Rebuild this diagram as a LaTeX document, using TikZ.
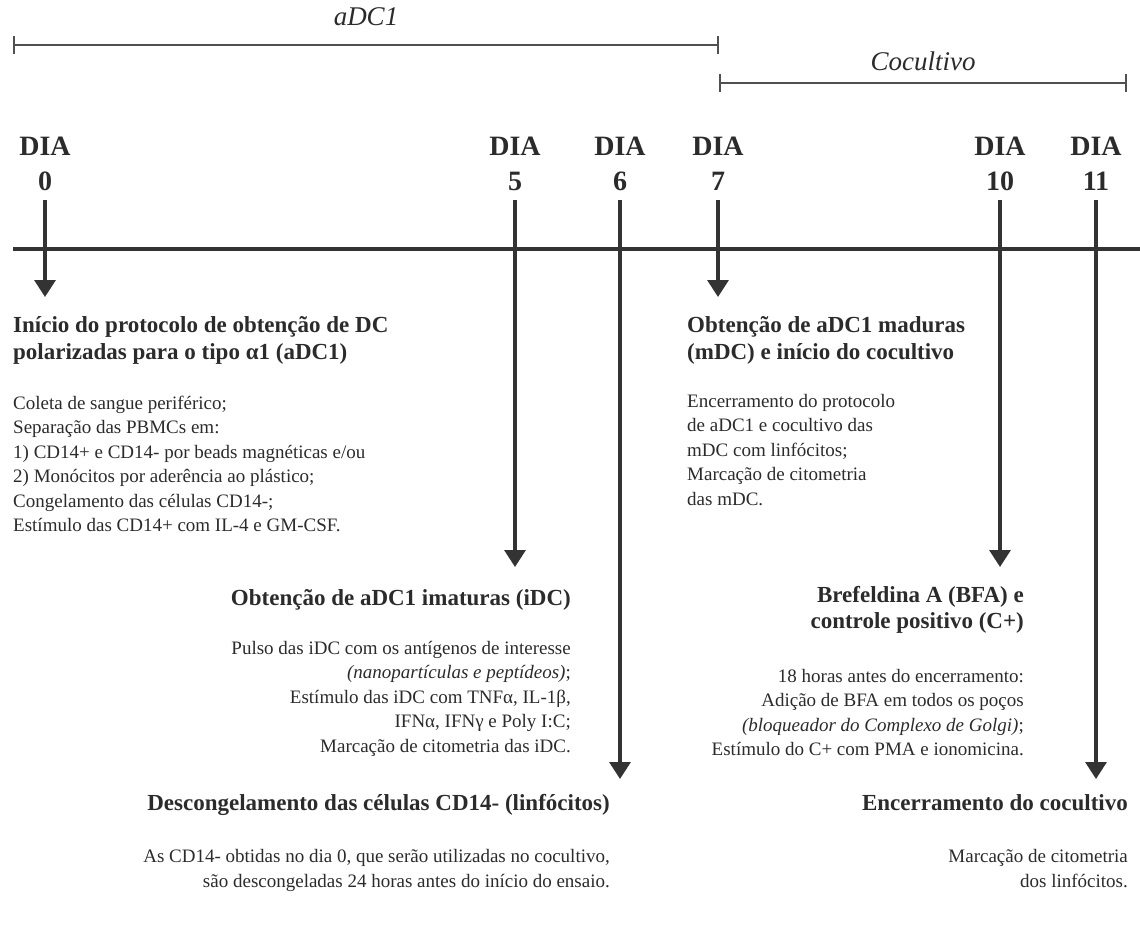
\documentclass[tikz,border=0pt]{standalone}
\usepackage{fontspec}
\setmainfont{Liberation Serif}
\definecolor{TimelineGray}{HTML}{333333}
\definecolor{BracketGray}{HTML}{505050}
\definecolor{InkGray}{HTML}{2B2B2B}
\usetikzlibrary{arrows.meta}

\tikzset{
  dayarrow/.style={draw=TimelineGray, line width=3.3pt,
    -{Triangle[width=21pt,length=17pt]}},
  daylabel/.style={font=\fontsize{28}{35}\selectfont\bfseries,
    align=center, text=InkGray, inner sep=0pt, anchor=base},
  phasebar/.style={draw=BracketGray, line width=2pt,
    {Bar[width=18pt]}-{Bar[width=18pt]}},
  phaselabel/.style={font=\fontsize{27}{32}\selectfont\itshape,
    text=InkGray, inner sep=0pt, anchor=base},
  stephead/.style={font=\fontsize{23}{26.5}\selectfont\bfseries,
    text=InkGray, inner sep=0pt},
  stepbody/.style={font=\fontsize{19}{24.5}\selectfont,
    text=InkGray, inner sep=0pt}
}

\begin{document}
\begin{tikzpicture}[x=1pt, y=-1pt]
    \useasboundingbox (0,0) rectangle (1140,929);

    % phases
    \coordinate (adc-a) at (13,45);
    \coordinate (adc-b) at (719,45);
    \coordinate (cocult-a) at (719,83);
    \coordinate (cocult-b) at (1127,83);
    \draw[phasebar] (adc-a) -- (adc-b);
    \draw[phasebar] (cocult-a) -- (cocult-b);
    \node[phaselabel] (adc-lbl) at (366,25) {aDC1};
    \node[phaselabel] (cocult-lbl) at (923,70) {Cocultivo};

    % timeline
    \coordinate (tl-a) at (13,249);
    \coordinate (tl-b) at (1140,249);
    \draw[draw=TimelineGray, line width=3.5pt] (tl-a) -- (tl-b);

    % days (anchor = baseline of the last line)
    \node[daylabel] (dia0) at (45,190) {DIA\\0};
    \node[daylabel] (dia5) at (515,190) {DIA\\5};
    \node[daylabel] (dia6) at (620,190) {DIA\\6};
    \node[daylabel] (dia7) at (718,190) {DIA\\7};
    \node[daylabel] (dia10) at (1000,190) {DIA\\10};
    \node[daylabel] (dia11) at (1096,190) {DIA\\11};

    \coordinate (end0) at (45,297);
    \coordinate (end5) at (515,567);
    \coordinate (end6) at (620,779);
    \coordinate (end7) at (718,297);
    \coordinate (end10) at (1000,567);
    \coordinate (end11) at (1096,779);
    \foreach \d in {0,5,6,7,10,11}
      \draw[dayarrow] ([yshift=-10pt]dia\d.south) -- (end\d);

    % dia 0
    \node[stephead, align=left, anchor=base west] (head0) at (13,359)
      {Início do protocolo de obtenção de DC\\polarizadas para o tipo α1 (aDC1)};
    \node[stepbody, align=left, anchor=base west] (body0) at (13,531.5)
      {Coleta de sangue periférico;\\
       Separação das PBMCs em:\\
       1) CD14+ e CD14- por beads magnéticas e/ou\\
       2) Monócitos por aderência ao plástico;\\
       Congelamento das células CD14-;\\
       Estímulo das CD14+ com IL-4 e GM-CSF.};

    % dia 5
    \node[stephead, align=right, anchor=base east] (head5) at (571,605)
      {Obtenção de aDC1 imaturas (iDC)};
    \node[stepbody, align=right, anchor=base east] (body5) at (571,752)
      {Pulso das iDC com os antígenos de interesse\\
       \textit{(nanopartículas e peptídeos)};\\
       Estímulo das iDC com TNFα, IL-1β,\\
       IFNα, IFNγ e Poly I:C;\\
       Marcação de citometria das iDC.};

    % dia 6
    \node[stephead, align=right, anchor=base east] (head6) at (610,810)
      {Descongelamento das células CD14- (linfócitos)};
    \node[stepbody, align=right, anchor=base east] (body6) at (610,887)
      {As CD14- obtidas no dia 0, que serão utilizadas no cocultivo,\\
       são descongeladas 24 horas antes do início do ensaio.};

    % dia 7
    \node[stephead, align=left, anchor=base west] (head7) at (687,359)
      {Obtenção de aDC1 maduras\\(mDC) e início do cocultivo};
    \node[stepbody, align=left, anchor=base west] (body7) at (687,505)
      {Encerramento do protocolo\\
       de aDC1 e cocultivo das\\
       mDC com linfócitos;\\
       Marcação de citometria\\
       das mDC.};

    % dia 10
    \node[stephead, align=right, anchor=base east] (head10) at (1024,628.5)
      {Brefeldina A (BFA) e\\controle positivo (C+)};
    \node[stepbody, align=right, anchor=base east] (body10) at (1024,755.5)
      {18 horas antes do encerramento:\\
       Adição de BFA em todos os poços\\
       \textit{(bloqueador do Complexo de Golgi)};\\
       Estímulo do C+ com PMA e ionomicina.};

    % dia 11
    \node[stephead, align=right, anchor=base east] (head11) at (1128,810)
      {Encerramento do cocultivo};
    \node[stepbody, align=right, anchor=base east] (body11) at (1128,887)
      {Marcação de citometria\\dos linfócitos.};
  \end{tikzpicture}
\end{document}
